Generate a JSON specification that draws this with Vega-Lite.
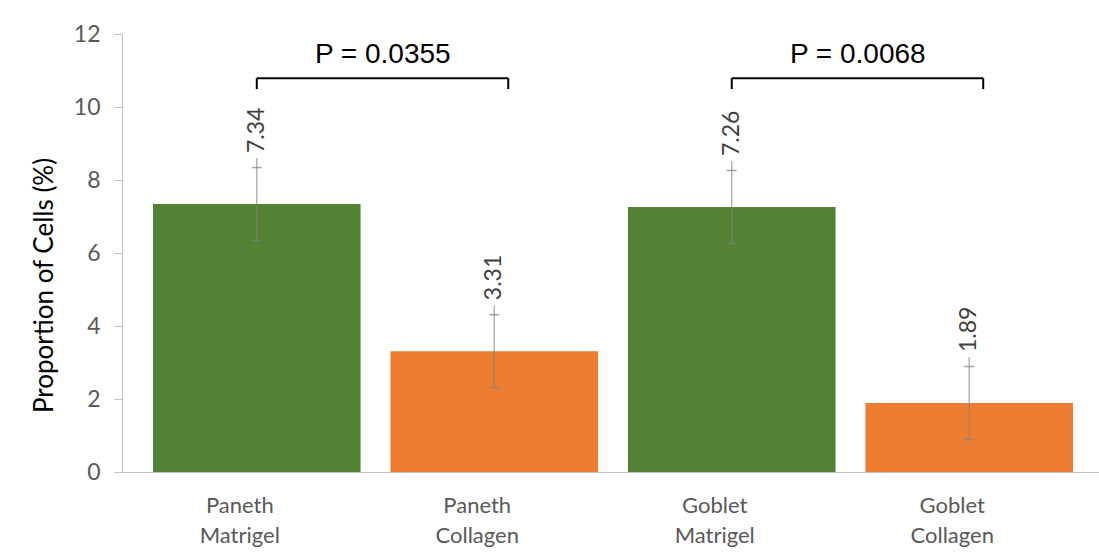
{
  "$schema": "https://vega.github.io/schema/vega-lite/v6.json",
  "width": 982,
  "height": 438,
  "autosize": {"type": "none"},
  "padding": {"left": 122, "top": 34, "right": 2, "bottom": 83},
  "background": "white",
  "config": {"view": {"stroke": null}},
  "datasets": {
    "bars": [
      {"category": "Paneth Matrigel", "group": "Matrigel", "value": 7.34, "lo": 6.34, "hi": 8.34, "lead": 8.6},
      {"category": "Paneth Collagen", "group": "Collagen", "value": 3.31, "lo": 2.31, "hi": 4.31, "lead": 4.57},
      {"category": "Goblet Matrigel", "group": "Matrigel", "value": 7.26, "lo": 6.26, "hi": 8.26, "lead": 8.52},
      {"category": "Goblet Collagen", "group": "Collagen", "value": 1.89, "lo": 0.89, "hi": 2.89, "lead": 3.15}
    ],
    "brackets": [
      {"from": "Paneth Matrigel", "to": "Paneth Collagen", "top": 10.79, "bottom": 10.49, "labelY": 11.42, "label": "P = 0.0355"},
      {"from": "Goblet Matrigel", "to": "Goblet Collagen", "top": 10.79, "bottom": 10.49, "labelY": 11.42, "label": "P = 0.0068"}
    ]
  },
  "layer": [
    {
      "data": {"name": "bars"},
      "layer": [
        {
          "mark": {"type": "bar"},
          "encoding": {
            "x": {
              "field": "category", "type": "nominal",
              "scale": {"domain": ["Paneth Matrigel", "Paneth Collagen", "Goblet Matrigel", "Goblet Collagen"], "paddingInner": 0.126, "paddingOuter": 0.1305},
              "axis": {
                "title": null, "labelAngle": 0, "ticks": false,
                "domainColor": "#bfbfbf", "domainWidth": 1,
                "labelExpr": "split(datum.label, ' ')",
                "labelFont": "Lato", "labelFontSize": 22, "labelColor": "#595959",
                "labelLineHeight": 30, "labelPadding": 23, "labelBaseline": "top", "labelOffset": -17
              }
            },
            "y": {
              "field": "value", "type": "quantitative",
              "scale": {"domain": [0, 12], "nice": false},
              "axis": {
                "title": "Proportion of Cells (%)", "values": [0, 2, 4, 6, 8, 10, 12],
                "grid": false, "domainColor": "#bfbfbf", "tickColor": "#bfbfbf", "tickSize": 8,
                "labelFont": "Lato", "labelFontSize": 23, "labelColor": "#595959", "labelPadding": 14,
                "titleFont": "Lato", "titleFontSize": 26, "titleFontWeight": "normal", "titleColor": "#000000",
                "titlePadding": 16, "titleY": 251
              }
            },
            "color": {
              "field": "group", "type": "nominal",
              "scale": {"domain": ["Matrigel", "Collagen"], "range": ["#548235", "#ED7D31"]},
              "legend": null
            }
          }
        },
        {
          "mark": {"type": "rule", "color": "#808080", "opacity": 0.6, "strokeWidth": 1.5},
          "encoding": {
            "x": {"field": "category", "type": "nominal"},
            "y": {"field": "lo", "type": "quantitative"},
            "y2": {"field": "lead"}
          }
        },
        {
          "mark": {"type": "tick", "color": "#808080", "size": 10, "thickness": 1.5},
          "encoding": {
            "x": {"field": "category", "type": "nominal"},
            "y": {"field": "lo", "type": "quantitative"}
          }
        },
        {
          "mark": {"type": "tick", "color": "#808080", "size": 10, "thickness": 1.5},
          "encoding": {
            "x": {"field": "category", "type": "nominal"},
            "y": {"field": "hi", "type": "quantitative"}
          }
        },
        {
          "mark": {"type": "text", "angle": 270, "align": "left", "baseline": "middle", "dx": 5, "font": "Lato", "fontSize": 23, "color": "#404040"},
          "encoding": {
            "x": {"field": "category", "type": "nominal"},
            "y": {"field": "lead", "type": "quantitative"},
            "text": {"field": "value", "type": "quantitative", "format": ".2f"}
          }
        }
      ]
    },
    {
      "data": {"name": "brackets"},
      "layer": [
        {
          "mark": {"type": "rule", "color": "#000000", "strokeWidth": 2, "x2Offset": 14},
          "encoding": {
            "x": {"field": "from", "type": "nominal"},
            "x2": {"field": "to"},
            "y": {"field": "top", "type": "quantitative"}
          }
        },
        {
          "mark": {"type": "rule", "color": "#000000", "strokeWidth": 2},
          "encoding": {
            "x": {"field": "from", "type": "nominal"},
            "y": {"field": "bottom", "type": "quantitative"},
            "y2": {"field": "top"}
          }
        },
        {
          "mark": {"type": "rule", "color": "#000000", "strokeWidth": 2, "xOffset": 14},
          "encoding": {
            "x": {"field": "to", "type": "nominal"},
            "y": {"field": "bottom", "type": "quantitative"},
            "y2": {"field": "top"}
          }
        },
        {
          "mark": {"type": "text", "align": "center", "baseline": "middle", "dx": 126, "font": "Liberation Sans", "fontSize": 28, "color": "#000000"},
          "encoding": {
            "x": {"field": "from", "type": "nominal"},
            "y": {"field": "labelY", "type": "quantitative"},
            "text": {"field": "label"}
          }
        }
      ]
    }
  ]
}
